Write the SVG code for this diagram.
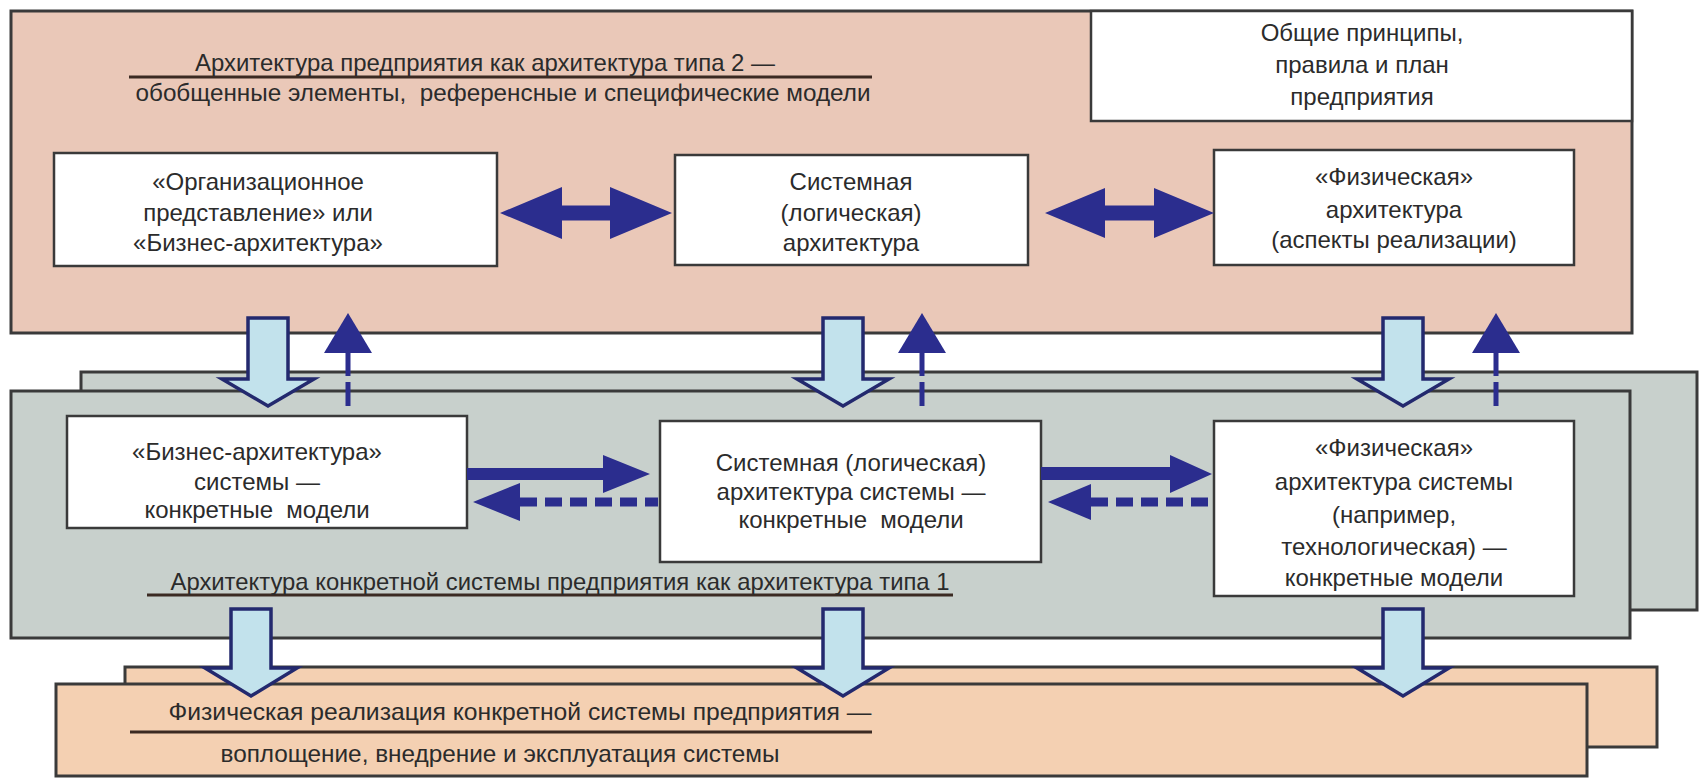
<svg xmlns="http://www.w3.org/2000/svg" width="1700" height="780" viewBox="0 0 1700 780">
<style>
text{font-family:"Liberation Sans",Arial,sans-serif;font-size:24px;fill:#2b2b2b;text-anchor:middle}
.frame{stroke:#3a3a3a;stroke-width:3}
.pink{fill:#eac8b8}
.grey{fill:#c8d0cc}
.peach{fill:#f4d0b2}
.box{fill:#ffffff;stroke:#3a3a3a;stroke-width:2.5}
.rule{stroke:#3b2a22;stroke-width:3}
.hollow{fill:#c2e2ec;stroke:#23296e;stroke-width:3.5;stroke-linejoin:miter}
.solid{fill:#2b2d8e}
.dash{stroke:#2b2d8e;fill:none}
</style>
<rect x="0" y="0" width="1700" height="780" fill="#ffffff"/>
<g id="layer-type2">
<rect class="pink frame" x="11" y="11" width="1621" height="322"/>
<line class="rule" x1="129" y1="77" x2="872" y2="77"/>
<text x="485" y="71" textLength="580" lengthAdjust="spacingAndGlyphs">Архитектура предприятия как архитектура типа 2 —</text>
<text x="503" y="101" textLength="735" lengthAdjust="spacingAndGlyphs" xml:space="preserve">обобщенные элементы,  референсные и специфические модели</text>
</g>
<g id="layer-type1-back"><rect class="grey frame" x="81" y="372" width="1616" height="238"/></g>
<g id="layer-type1">
<rect class="grey frame" x="11" y="391" width="1619" height="247"/>
<line class="rule" x1="147" y1="595" x2="953" y2="595"/>
<text x="560" y="590" textLength="779" lengthAdjust="spacingAndGlyphs">Архитектура конкретной системы предприятия как архитектура типа 1</text>
</g>
<g id="layer-physical-back"><rect class="peach frame" x="125" y="667" width="1532" height="80"/></g>
<g id="layer-physical">
<rect class="peach frame" x="56" y="684" width="1531" height="92"/>
<line class="rule" x1="130" y1="732" x2="872" y2="732"/>
<text x="520" y="720" textLength="703" lengthAdjust="spacingAndGlyphs">Физическая реализация конкретной системы предприятия —</text>
<text x="500" y="762" textLength="559" lengthAdjust="spacingAndGlyphs">воплощение, внедрение и эксплуатация системы</text>
</g>
<g id="node-principles">
<rect class="box" x="1091" y="11" width="541" height="110"/>
<text x="1362" y="41">Общие принципы,</text>
<text x="1362" y="73">правила и план</text>
<text x="1362" y="105">предприятия</text>
</g>
<g id="node-org">
<rect class="box" x="54" y="153" width="443" height="113"/>
<text x="258" y="190">«Организационное</text>
<text x="258" y="221">представление» или</text>
<text x="258" y="251">«Бизнес-архитектура»</text>
</g>
<g id="node-logical">
<rect class="box" x="675" y="155" width="353" height="110"/>
<text x="851" y="190">Системная</text>
<text x="851" y="221">(логическая)</text>
<text x="851" y="251">архитектура</text>
</g>
<g id="node-physical-arch">
<rect class="box" x="1214" y="150" width="360" height="115"/>
<text x="1394" y="185">«Физическая»</text>
<text x="1394" y="218">архитектура</text>
<text x="1394" y="248">(аспекты реализации)</text>
</g>
<g id="node-business-sys">
<rect class="box" x="67" y="416" width="400" height="112"/>
<text x="257" y="460">«Бизнес-архитектура»</text>
<text x="257" y="490">системы —</text>
<text x="257" y="518" xml:space="preserve">конкретные  модели</text>
</g>
<g id="node-logical-sys">
<rect class="box" x="660" y="421" width="381" height="141"/>
<text x="851" y="471">Системная (логическая)</text>
<text x="851" y="500">архитектура системы —</text>
<text x="851" y="528" xml:space="preserve">конкретные  модели</text>
</g>
<g id="node-physical-sys">
<rect class="box" x="1214" y="421" width="360" height="175"/>
<text x="1394" y="456">«Физическая»</text>
<text x="1394" y="490">архитектура системы</text>
<text x="1394" y="523">(например,</text>
<text x="1394" y="555">технологическая) —</text>
<text x="1394" y="586">конкретные модели</text>
</g>
<g id="connectors">
<path class="solid" d="M500,213 L562,187 V205.5 H610 V187 L672,213 L610,239 V220.5 H562 V239 Z"/>
<path class="solid" d="M1045,213 L1105,188 V205.5 H1154 V188 L1214,213 L1154,238 V220.5 H1105 V238 Z"/>
<path class="hollow" d="M248,318 H288 V379 H314 L268,406 L222,379 H248 Z"/>
<path class="hollow" d="M823,318 H863 V379 H889 L843,406 L797,379 H823 Z"/>
<path class="hollow" d="M1383,318 H1423 V379 H1449 L1403,406 L1357,379 H1383 Z"/>
<path class="hollow" d="M231,609 H271 V668 H297 L251,696 L205,668 H231 Z"/>
<path class="hollow" d="M823,609 H863 V668 H889 L843,696 L797,668 H823 Z"/>
<path class="hollow" d="M1383,609 H1423 V668 H1449 L1403,696 L1357,668 H1383 Z"/>
<path class="solid" d="M348,313 L372,353 L324,353 Z"/>
<line class="dash" x1="348" y1="352" x2="348" y2="412" stroke-width="5" stroke-dasharray="24 6"/>
<path class="solid" d="M922,313 L946,353 L898,353 Z"/>
<line class="dash" x1="922" y1="352" x2="922" y2="412" stroke-width="5" stroke-dasharray="24 6"/>
<path class="solid" d="M1496,313 L1520,353 L1472,353 Z"/>
<line class="dash" x1="1496" y1="352" x2="1496" y2="412" stroke-width="5" stroke-dasharray="24 6"/>
<path class="solid" d="M467,468 H603 V455 L650,474 L603,493 V480 H467 Z"/>
<path class="solid" d="M473,502 L520,483 L520,521 Z"/>
<line class="dash" x1="520" y1="502" x2="658" y2="502" stroke-width="9" stroke-dasharray="17 8"/>
<path class="solid" d="M1041,467 H1170 V455 L1212,474 L1170,493 V480 H1041 Z"/>
<path class="solid" d="M1048,502 L1091,484 L1091,520 Z"/>
<line class="dash" x1="1091" y1="502" x2="1212" y2="502" stroke-width="9" stroke-dasharray="17 8"/>
</g>
</svg>
